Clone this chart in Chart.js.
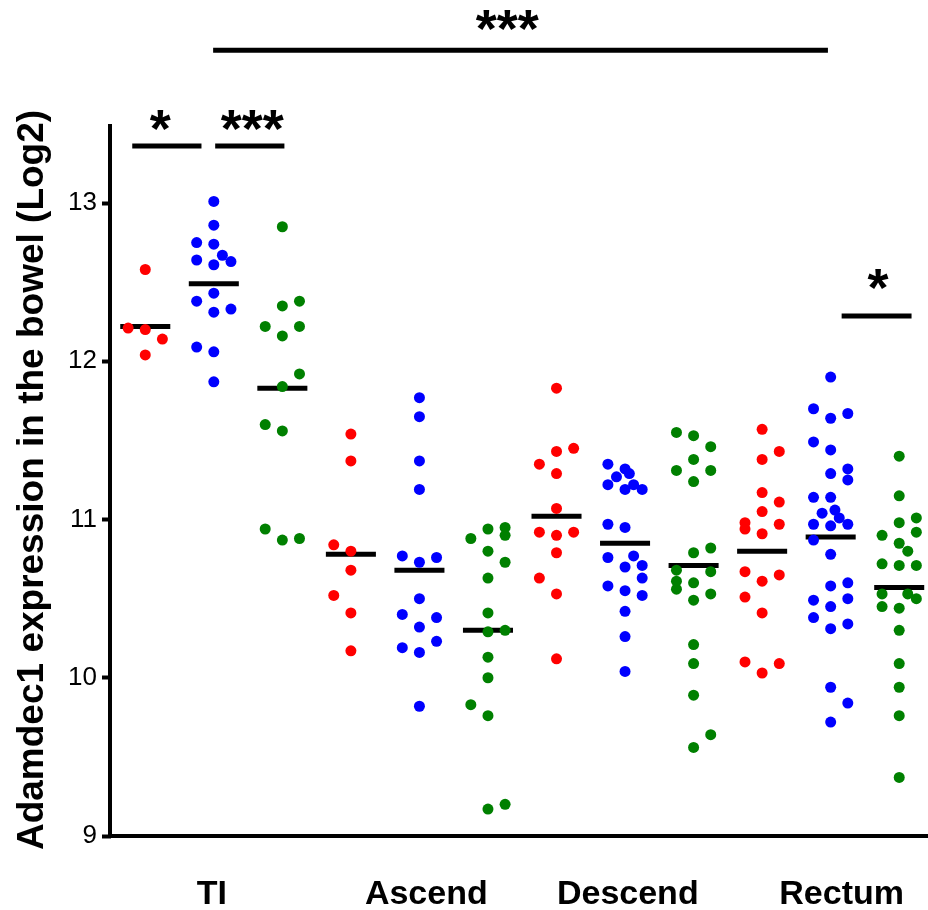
<!DOCTYPE html>
<html>
<head>
<meta charset="utf-8">
<script src="https://cdn.jsdelivr.net/npm/chart.js@4.4.0/dist/chart.umd.min.js"></script>
<style>
    html, body { margin: 0; padding: 0; background: #fff; }
</style>
</head>
<body>
<canvas id="dotplot" width="928" height="910"></canvas>
<script>
// ==============================================================
// Data. Each group: values + jitter column
// ==============================================================
var regions = ['TI', 'Ascend', 'Descend', 'Rectum'];
var regionAt = [0.97, 4.1, 7.04, 10.16];
var yTicks = [9, 10, 11, 12, 13];

var tiRed = [12.58, 12.21, 12.20, 12.14, 12.04];
var tiRedCol = [0, -1, 0, 1, 0];
var tiBlue = [13.01, 12.86, 12.75, 12.74, 12.67, 12.64, 12.63, 12.61, 12.43, 12.38, 12.31, 12.33, 12.09, 12.06, 11.87];
var tiBlueCol = [0, 0, -1, 0, 0.5, -1, 1, 0, 0, -1, 0, 1, -1, 0, 0];
var tiGreen = [12.85, 12.38, 12.35, 12.22, 12.22, 12.16, 11.92, 11.84, 11.60, 11.56, 10.94, 10.87, 10.88];
var tiGreenCol = [0, 1, 0, -1, 1, 0, 1, 0, -1, 0, -1, 0, 1];

var ascRed = [11.54, 11.37, 10.84, 10.80, 10.68, 10.52, 10.41, 10.17];
var ascRedCol = [0, 0, -1, 0, 0, -1, 0, 0];
var ascBlue = [11.77, 11.65, 11.37, 11.19, 10.77, 10.76, 10.73, 10.50, 10.40, 10.38, 10.32, 10.19, 10.23, 10.16, 9.82];
var ascBlueCol = [0, 0, 0, 0, -1, 1, 0, 0, -1, 1, 0, -1, 1, 0, 0];
var ascGreen = [10.88, 10.94, 10.95, 10.90, 10.80, 10.73, 10.63, 10.41, 10.29, 10.30, 10.13, 10.00, 9.83, 9.76, 9.17, 9.20];
var ascGreenCol = [-1, 0, 1, 1, 0, 1, 0, 0, 0, 1, 0, 0, -1, 0, 0, 1];

var desRed = [11.83, 11.43, 11.45, 11.35, 11.29, 11.07, 10.92, 10.90, 10.92, 10.79, 10.63, 10.53, 10.12];
var desRedCol = [0, 0, 1, -1, 0, 0, -1, 0, 1, 0, -1, 0, 0];
var desBlue = [11.35, 11.32, 11.29, 11.27, 11.22, 11.22, 11.19, 11.19, 10.97, 10.95, 10.76, 10.77, 10.70, 10.71, 10.63, 10.58, 10.55, 10.52, 10.42, 10.26, 10.04];
var desBlueCol = [-1, 0, 0.25, -0.5, -1, 0.5, 0, 1, -1, 0, -1, 0.5, 0, 1, 1, -1, 0, 1, 0, 0, 0];
var desGreen = [11.55, 11.53, 11.46, 11.38, 11.31, 11.31, 11.24, 10.79, 10.82, 10.68, 10.67, 10.61, 10.56, 10.60, 10.53, 10.49, 10.21, 10.09, 9.89, 9.64, 9.56];
var desGreenCol = [-1, 0, 1, 0, -1, 1, 0, 0, 1, -1, 1, -1, -1, 0, 1, 0, 0, 0, 0, 1, 0];

var recRed = [11.57, 11.43, 11.38, 11.17, 11.11, 11.05, 10.98, 10.94, 10.97, 10.91, 10.67, 10.61, 10.65, 10.51, 10.41, 10.10, 10.09, 10.03];
var recRedCol = [0, 1, 0, 0, 1, 0, -1, -1, 1, 0, -1, 0, 1, -1, 0, -1, 1, 0];
var recBlue = [11.90, 11.70, 11.64, 11.67, 11.49, 11.44, 11.32, 11.29, 11.25, 11.14, 11.14, 11.06, 11.04, 11.01, 10.97, 10.97, 10.96, 10.87, 10.78, 10.58, 10.60, 10.49, 10.50, 10.45, 10.38, 10.31, 10.34, 9.94, 9.84, 9.72];
var recBlueCol = [0, -1, 0, 1, -1, 0, 1, 0, 1, -1, 0, 0.25, -0.5, 0.5, -1, 1, 0, -1, 0, 0, 1, -1, 1, 0, -1, 0, 1, 0, 1, 0];
var recGreen = [11.40, 11.15, 10.98, 11.01, 10.92, 10.90, 10.85, 10.80, 10.72, 10.71, 10.71, 10.53, 10.53, 10.50, 10.45, 10.44, 10.30, 10.09, 9.94, 9.76, 9.37];
var recGreenCol = [0, 0, 0, 1, 1, -1, 0, 0.5, -1, 0, 1, -1, 0.5, 1, -1, 0, 0, 0, 0, 0, 0];

var medians = [12.22, 12.49, 11.83, 10.78, 10.68, 10.30, 11.02, 10.85, 10.71, 10.80, 10.89, 10.57];

// significance bars and their stars
var sigFrom = [-0.19, 1.02, 0.99, 10.16];
var sigTo = [0.82, 2.03, 9.96, 11.18];
var sigLevel = [13.36, 13.36, 13.966, 12.286];
var sigStarAt = [0.22, 1.56, 5.28, 10.69];
var sigStarLevel = [13.524, 13.524, 14.156, 12.514];
var sigText = ['*', '***', '***', '*'];

var groupColors = ['#ff0000', '#0000ff', '#008000'];
var FONT = '"Liberation Sans", Arial, Helvetica, sans-serif';

// ==============================================================
// Datasets
// ==============================================================
var groups = [
    [tiRed, tiRedCol], [tiBlue, tiBlueCol], [tiGreen, tiGreenCol],
    [ascRed, ascRedCol], [ascBlue, ascBlueCol], [ascGreen, ascGreenCol],
    [desRed, desRedCol], [desBlue, desBlueCol], [desGreen, desGreenCol],
    [recRed, recRedCol], [recBlue, recBlueCol], [recGreen, recGreenCol]
];

var datasets = [];
groups.forEach(function (g, i) {
    datasets.push({
        data: g[0].map(function (v, k) { return { x: i + g[1][k] * 0.25, y: v }; }),
        backgroundColor: groupColors[i % 3],
        borderWidth: 0,
        pointRadius: 5.5,
        order: 1
    });
    datasets.push({
        data: [{ x: i - 0.365, y: medians[i] }, { x: i + 0.365, y: medians[i] }],
        showLine: true,
        borderColor: '#000',
        borderWidth: 5,
        pointRadius: 0,
        order: 2
    });
});
sigFrom.forEach(function (f, i) {
    datasets.push({
        data: [{ x: f, y: sigLevel[i] }, { x: sigTo[i], y: sigLevel[i] }],
        showLine: true,
        borderColor: '#000',
        borderWidth: 5,
        pointRadius: 0,
        order: 2
    });
});

// y axis line (stops at 13.5), title, stars
var extras = {
    id: 'extras',
    afterDraw: function (chart) {
        var ctx = chart.ctx, xs = chart.scales.x, ys = chart.scales.y;
        ctx.save();
        ctx.strokeStyle = '#000';
        ctx.lineWidth = 4;
        ctx.beginPath();
        ctx.moveTo(chart.chartArea.left - 1, ys.getPixelForValue(13.5));
        ctx.lineTo(chart.chartArea.left - 1, ys.getPixelForValue(9) + 2);
        ctx.stroke();

        ctx.fillStyle = '#000';
        ctx.font = 'bold 54px ' + FONT;
        ctx.textAlign = 'center';
        ctx.textBaseline = 'alphabetic';
        sigText.forEach(function (t, i) {
            var m = ctx.measureText(t);
            var cy = ys.getPixelForValue(sigStarLevel[i]);
            var base = cy + (m.actualBoundingBoxAscent - m.actualBoundingBoxDescent) / 2;
            ctx.fillText(t, xs.getPixelForValue(sigStarAt[i]), base);
        });

        var mid = (ys.getPixelForValue(9) + ys.getPixelForValue(13.5)) / 2;
        ctx.translate(33, mid);
        ctx.rotate(-Math.PI / 2);
        ctx.font = 'bold 37px ' + FONT;
        ctx.textBaseline = 'middle';
        ctx.fillText('Adamdec1 expression in the bowel (Log2)', 0, 0);
        ctx.restore();
    }
};

var chart = new Chart(document.getElementById('dotplot'), {
    type: 'scatter',
    data: { datasets: datasets },
    options: {
        responsive: false,
        animation: false,
        layout: { padding: 0, autoPadding: false },
        plugins: {
            legend: { display: false },
            tooltip: { enabled: false }
        },
        scales: {
            x: {
                type: 'linear',
                min: -0.5,
                max: 11.42,
                afterBuildTicks: function (s) {
                    s.ticks = regionAt.map(function (v) { return { value: v }; });
                },
                afterFit: function (s) {
                    s.height = 74;
                    s.paddingLeft = 0;
                    s.paddingRight = 0;
                },
                border: { display: true, color: '#000', width: 4 },
                grid: { display: false, drawTicks: false },
                ticks: {
                    autoSkip: false,
                    maxRotation: 0,
                    padding: 38,
                    color: '#000',
                    font: { family: FONT, size: 34, weight: 'bold' },
                    callback: function (v, i) { return regions[i]; }
                }
            },
            y: {
                type: 'linear',
                min: 9,
                max: 14.283,
                afterBuildTicks: function (s) {
                    s.ticks = yTicks.map(function (v) { return { value: v }; });
                },
                afterFit: function (s) {
                    s.width = 111;
                    s.paddingTop = 0;
                    s.paddingBottom = 0;
                },
                border: { display: false },
                grid: {
                    drawOnChartArea: false,
                    drawTicks: true,
                    tickLength: 9,
                    tickWidth: 4,
                    tickColor: '#000'
                },
                ticks: {
                    padding: 5,
                    color: '#000',
                    font: { family: FONT, size: 26 }
                }
            }
        }
    },
    plugins: [extras]
});
</script>
</body>
</html>
